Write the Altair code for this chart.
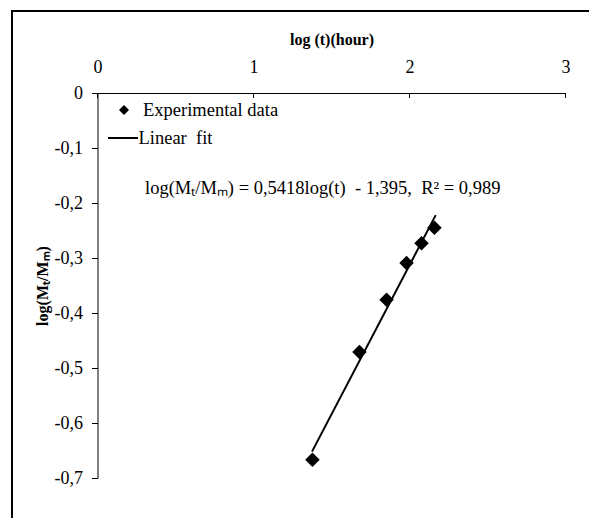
import altair as alt
import pandas as pd

exp_x = [1.378, 1.679, 1.853, 1.981, 2.077, 2.160]
exp_y = [-0.667, -0.471, -0.376, -0.309, -0.273, -0.245]
# Linear fit end points
fit_x = [1.375, 2.168]
fit_y = [-0.652, -0.222]
x_ticks = [0, 1, 2, 3]
y_ticks = [0, -0.1, -0.2, -0.3, -0.4, -0.5, -0.6, -0.7]

FONT = "Liberation Serif"
NB = "\u00a0"

exp_df = pd.DataFrame({"x": exp_x, "y": exp_y})
fit_df = pd.DataFrame({"x": fit_x, "y": fit_y})
tick_df = pd.DataFrame({"x": x_ticks})
one = alt.Data(values=[{"a": 1}])

label_expr = "datum.value == 0 ? '0' : (datum.value < 0 ? '-' : '') + replace(format(abs(datum.value), '.1f'), '.', ',')"

xscale = alt.Scale(domain=[0, 3], nice=False, zero=False)
yscale = alt.Scale(domain=[-0.7, 0], nice=False, zero=False)

x_enc = alt.X("x:Q", scale=xscale,
              axis=alt.Axis(orient="top", values=x_ticks, format="d", ticks=False, labelPadding=17,
                            labelFlush=False,
                            title="log (t)(hour)", titlePadding=11, grid=False,
                            labelFont=FONT, labelFontSize=18, labelColor="black",
                            titleFont=FONT, titleFontSize=16, titleFontWeight="bold",
                            titleColor="black", domainColor="black", domainWidth=1))
y_enc = alt.Y("y:Q", scale=yscale,
              axis=alt.Axis(values=y_ticks, tickSize=6, tickColor="black", labelPadding=9,
                            labelFlush=False,
                            labelExpr=label_expr, title="log(Mₜ/Mₘ)", titlePadding=4,
                            grid=False, labelFont=FONT, labelFontSize=18, labelColor="black",
                            titleFont=FONT, titleFontSize=16, titleFontWeight="bold",
                            titleColor="black", domainColor="black", domainWidth=1))

points = alt.Chart(exp_df).mark_point(shape="diamond", filled=True, color="black",
                                      size=210, opacity=1).encode(x=x_enc, y=y_enc)
line = alt.Chart(fit_df).mark_line(color="black", strokeWidth=2).encode(
    x=alt.X("x:Q", scale=xscale), y=alt.Y("y:Q", scale=yscale))
inner_ticks = alt.Chart(tick_df).mark_rule(color="black", strokeWidth=1).encode(
    x=alt.X("x:Q", scale=xscale), y=alt.value(0), y2=alt.value(5))

frame = alt.Chart(one).mark_rect(filled=False, stroke="black", strokeWidth=2).encode(
    x=alt.value(-85.5), x2=alt.value(800), y=alt.value(-82), y2=alt.value(800))

leg_pt = alt.Chart(one).mark_point(shape="diamond", filled=True, color="black",
                                   size=100, opacity=1).encode(x=alt.value(26.5), y=alt.value(17))
leg_txt1 = alt.Chart(one).mark_text(text="Experimental data", align="left", baseline="middle",
                                    font=FONT, fontSize=18.5, color="black").encode(
    x=alt.value(45.5), y=alt.value(17))
leg_line = alt.Chart(one).mark_rule(color="black", strokeWidth=2).encode(
    x=alt.value(10.5), x2=alt.value(40.5), y=alt.value(45))
leg_txt2 = alt.Chart(one).mark_text(text="Linear" + NB + NB + "fit", align="left", baseline="middle",
                                    font=FONT, fontSize=18.5, color="black").encode(
    x=alt.value(41), y=alt.value(45))
eq_txt = alt.Chart(one).mark_text(
    text="log(Mₜ/Mₘ) = 0,5418log(t)" + NB + NB + "- 1,395," + NB + NB + "R² = 0,989",
    align="left", baseline="middle", font=FONT, fontSize=18.5, color="black").encode(
    x=alt.value(47.5), y=alt.value(95))

chart = alt.layer(frame, line, points, inner_ticks, leg_pt, leg_txt1, leg_line, leg_txt2, eq_txt).properties(
    width=468, height=385,
    autosize=alt.AutoSizeParams(type="none"),
    padding={"left": 89.5, "top": 85, "right": 23, "bottom": 40},
    background="white",
).configure_view(strokeWidth=0)

chart.save("out.html", embed_options={"renderer": "svg", "actions": False})
